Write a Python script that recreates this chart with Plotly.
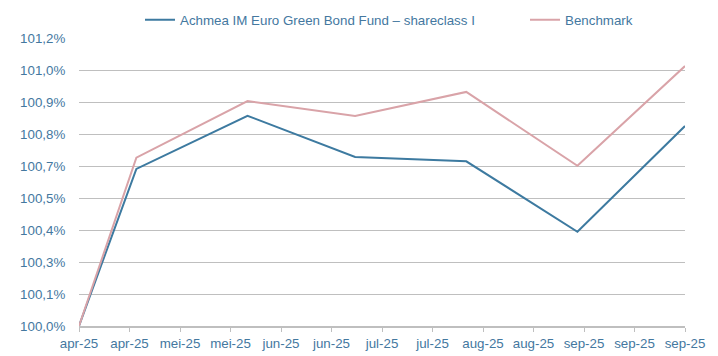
import plotly.graph_objects as go
import pandas as pd

dates = ["2025-04-14", "2025-04-30", "2025-05-31", "2025-06-30",
         "2025-07-31", "2025-08-31", "2025-09-30"]
fund = [100.0, 100.638, 100.854, 100.687, 100.669, 100.383, 100.8125]
bench = [100.0, 100.684, 100.914, 100.853, 100.951, 100.651, 101.056]

x_labels = ["apr-25", "apr-25", "mei-25", "mei-25", "jun-25", "jun-25", "jul-25",
            "jul-25", "aug-25", "aug-25", "sep-25", "sep-25", "sep-25"]
y_labels = ["100,0%", "100,1%", "100,3%", "100,4%", "100,5%",
            "100,7%", "100,8%", "100,9%", "101,0%", "101,2%"]
y_step = 0.13

fund_name = "Achmea IM Euro Green Bond Fund – shareclass I"
bench_name = "Benchmark"

TXT = "#44789f"
FONT = "Liberation Sans, Arial, sans-serif"
FS = 13.33

x_ticks = pd.date_range(dates[0], dates[-1], periods=len(x_labels))
y_ticks = [100 + y_step * i for i in range(len(y_labels))]

fig = go.Figure()
fig.add_trace(go.Scatter(x=dates, y=fund, mode="lines", name=fund_name,
                         line=dict(color="#3d7aa0", width=2), legend="legend"))
fig.add_trace(go.Scatter(x=dates, y=bench, mode="lines", name=bench_name,
                         line=dict(color="#d9a3a8", width=2), legend="legend2"))

leg_common = dict(orientation="h", xanchor="left", yanchor="middle",
                  font=dict(size=FS, color=TXT, family=FONT),
                  bgcolor="rgba(0,0,0,0)", xref="paper", yref="paper")

# page body has an 8px margin, so the figure is placed at (8, 8)
fig.update_layout(
    width=710, height=348,
    margin=dict(l=71, r=33, t=30, b=30, autoexpand=False),
    paper_bgcolor="white", plot_bgcolor="white",
    font=dict(family=FONT, size=FS, color=TXT),
    legend=dict(x=(140 - 79) / 606, y=1.0625, **leg_common),
    legend2=dict(x=(525 - 79) / 606, y=1.0625, **leg_common),
    showlegend=True,
)
fig.update_xaxes(
    type="date", range=[dates[0], dates[-1]],
    tickmode="array", tickvals=x_ticks, ticktext=x_labels,
    showgrid=False, showline=True, linecolor="#bfbfbf", linewidth=2,
    ticks="outside", ticklen=4, tickcolor="#bfbfbf", tickwidth=1,
    tickfont=dict(size=FS, color=TXT), zeroline=False,
)
fig.update_yaxes(
    range=[100, 100 + y_step * (len(y_labels) - 1)],
    tickmode="array", tickvals=y_ticks, ticktext=y_labels,
    showgrid=True, gridcolor="#bfbfbf", gridwidth=1,
    showline=False, zeroline=False,
    ticks="outside", ticklen=10, tickcolor="rgba(0,0,0,0)",
    tickfont=dict(size=FS, color=TXT),
)

fig.write_html("out.html")
